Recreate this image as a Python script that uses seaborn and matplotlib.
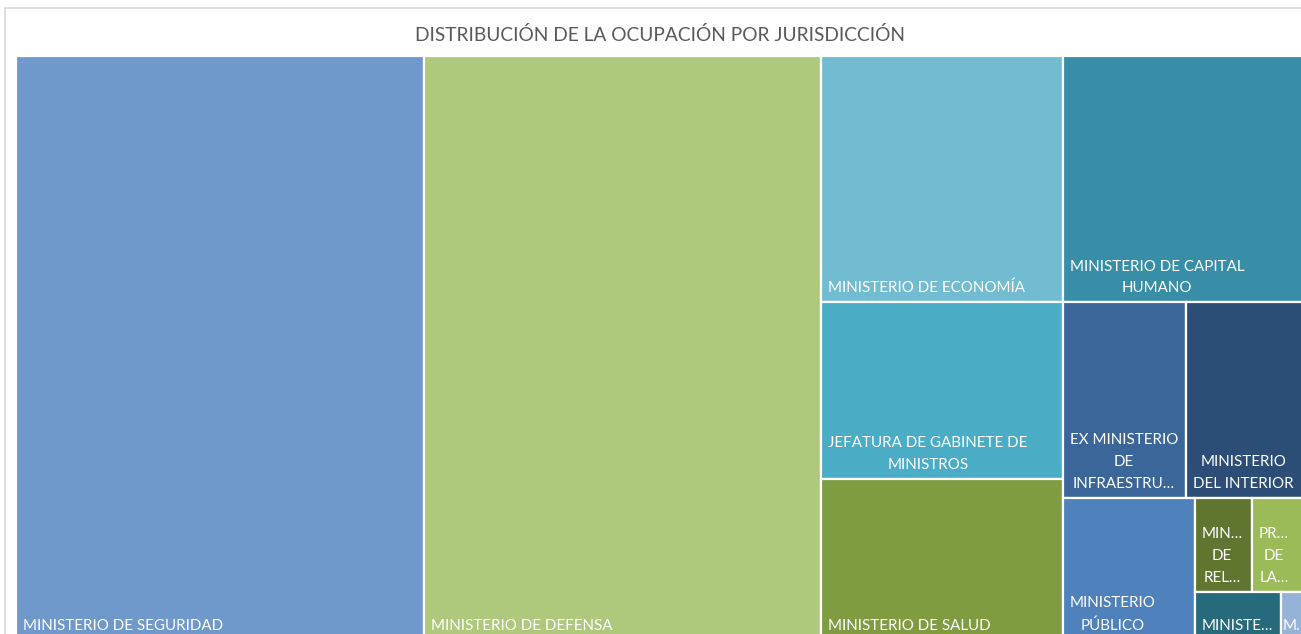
import matplotlib
matplotlib.use("Agg")
import matplotlib.pyplot as plt
from matplotlib.patches import Rectangle
import seaborn as sns

# jurisdicciones, ordenadas de mayor a menor ocupación (valores estimados del gráfico)
labels = [
    "MINISTERIO DE SEGURIDAD",
    "MINISTERIO DE DEFENSA",
    "MINISTERIO DE ECONOMÍA",
    "MINISTERIO DE CAPITAL\nHUMANO",
    "JEFATURA DE GABINETE DE\nMINISTROS",
    "MINISTERIO DE SALUD",
    "EX MINISTERIO\nDE\nINFRAESTRU…",
    "MINISTERIO\nDEL INTERIOR",
    "MINISTERIO\nPÚBLICO",
    "MIN…\nDE\nREL…",
    "PR…\nDE\nLA…",
    "MINISTE…",
    "M…",
]
ocupacion = [3165, 3087, 791, 791, 566, 518, 320, 307, 250, 72, 65, 55, 15]
colores = ["#7099CB", "#AFC97C", "#71BCD0", "#378EA6", "#4BACC6", "#7F9C41",
           "#3A6699", "#2C4D75", "#4F81BD", "#5F7530", "#9BBB59", "#276A7C", "#95B3D7"]


def worst(row, w):
    s = sum(row)
    return max(max(w * w * r / (s * s), s * s / (w * w * r)) for r in row)


def squarify(sizes, x, y, dx, dy):
    # squarified treemap (Bruls et al.), sizes already scaled to dx*dy
    rects = []
    sizes = list(sizes)
    while sizes:
        w = min(dx, dy)
        row = [sizes[0]]
        i = 1
        while i < len(sizes) and worst(row + [sizes[i]], w) <= worst(row, w):
            row.append(sizes[i])
            i += 1
        sizes = sizes[i:]
        s = sum(row)
        if dx >= dy:  # column on the left
            cw = s / dy
            yy = y
            for r in row:
                rects.append((x, yy, cw, r / cw))
                yy += r / cw
            x += cw
            dx -= cw
        else:  # row on top
            rh = s / dx
            xx = x
            for r in row:
                rects.append((xx, y, r / rh, rh))
                xx += r / rh
            y += rh
            dy -= rh
    return rects


sns.set_theme(style="white")
plt.rcParams["font.family"] = ["Lato", "DejaVu Sans"]

W, H = 1301, 634
fig = plt.figure(figsize=(W / 100, H / 100), dpi=100)
fig.patch.set_facecolor("white")

# chart border
fig.patches.append(Rectangle((5 / W, -0.1), 1.2, (H - 8) / H + 0.1, transform=fig.transFigure,
                             fill=False, edgecolor="#D9D9D9", linewidth=1.2))

left, top, right, bottom = 16, 56, 1304, 640
aw, ah = right - left, bottom - top
ax = fig.add_axes([left / W, (H - bottom) / H, aw / W, ah / H])
ax.set_xlim(0, aw)
ax.set_ylim(ah, 0)
ax.axis("off")

total = sum(ocupacion)
scaled = [v * aw * ah / total for v in ocupacion]
rects = squarify(scaled, 0, 0, aw, ah)

for (rx, ry, rw, rh), lab, c in zip(rects, labels, colores):
    ax.add_patch(Rectangle((rx, ry), rw, rh, facecolor=c, edgecolor="white", linewidth=1.6))
    pad = 7 if rw > 40 else 2
    ax.text(rx + pad, ry + rh - 7, lab, color="white", fontsize=10.9,
            ha="left", va="bottom", multialignment="center", linespacing=1.7)

fig.text(660 / W, 1 - 35 / H, "DISTRIBUCIÓN DE LA OCUPACIÓN POR JURISDICCIÓN",
         ha="center", va="center", fontsize=13.8, color="#595959")

fig.savefig("out.png", dpi=100)
